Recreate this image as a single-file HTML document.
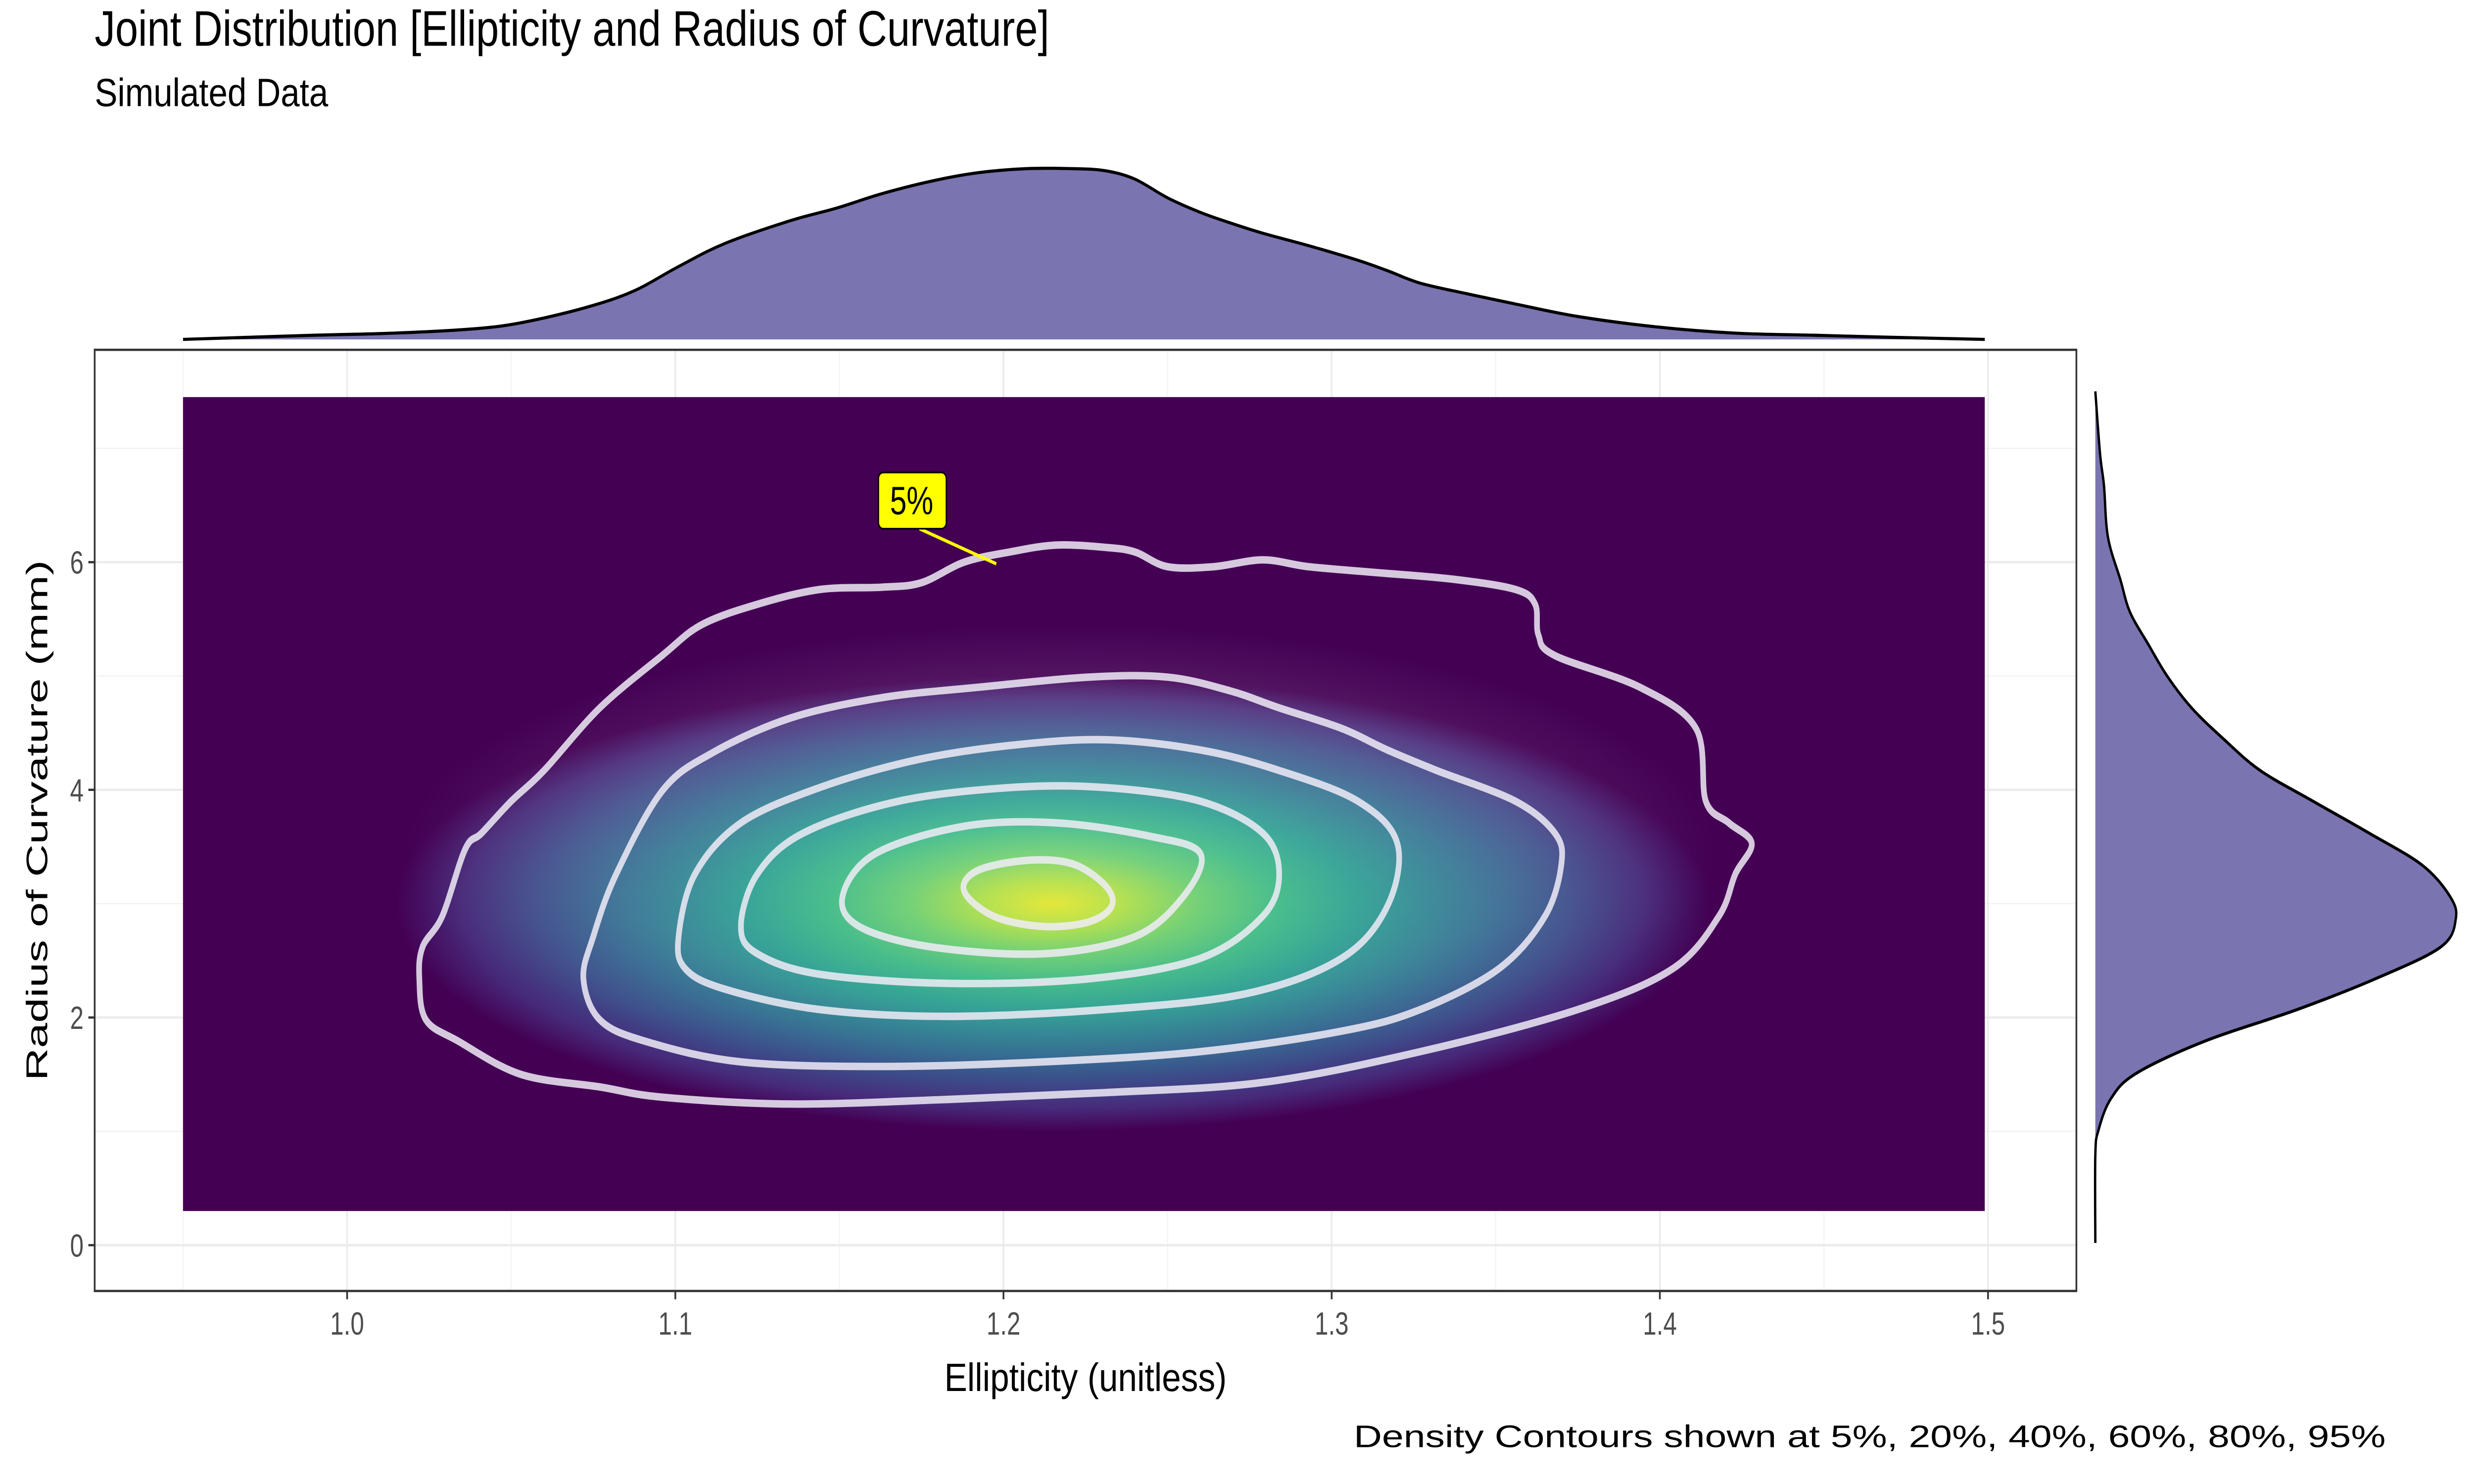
<!DOCTYPE html>
<html><head><meta charset="utf-8"><title>Joint Distribution</title>
<style>html,body{margin:0;padding:0;background:#fff;overflow:hidden;}svg{display:block;font-family:"Liberation Sans",Arial,sans-serif;}</style>
</head><body>
<svg id="chart" xmlns="http://www.w3.org/2000/svg" width="6600" height="3000">
<defs>
<radialGradient id="dens" cx="0.5" cy="0.5" r="0.5">
<stop offset="0" stop-color="#dfe318"/>
<stop offset="0.1" stop-color="#aadc32"/>
<stop offset="0.22" stop-color="#5ec962"/>
<stop offset="0.34" stop-color="#2fb47c"/>
<stop offset="0.46" stop-color="#1f9a8a"/>
<stop offset="0.57" stop-color="#277f8e"/>
<stop offset="0.68" stop-color="#31658e"/>
<stop offset="0.79" stop-color="#3d4a89"/>
<stop offset="0.9" stop-color="#472a7a"/>
<stop offset="1" stop-color="#440154"/>
</radialGradient>
<radialGradient id="haze" cx="0.5" cy="0.5" r="0.5">
<stop offset="0" stop-color="#ffffff" stop-opacity="0.18"/>
<stop offset="0.7" stop-color="#ffffff" stop-opacity="0.1"/>
<stop offset="1" stop-color="#ffffff" stop-opacity="0"/>
</radialGradient>
<clipPath id="rasterClip"><rect id="rasterClipRect" x="0" y="0" width="0" height="0"/></clipPath>
</defs>
<g id="root" transform="scale(4.20918)">
<text x="60" y="22" font-size="24" textLength="605" lengthAdjust="spacingAndGlyphs" fill="#000">Joint Distribution [Ellipticity and Radius of Curvature]</text>
<text x="60" y="51" font-size="19" textLength="148" lengthAdjust="spacingAndGlyphs" fill="#000">Simulated Data</text>
<g id="top-marginal"></g>
<g id="right-marginal"></g>
<g id="panel"></g>
<text x="688" y="668" font-size="19" text-anchor="middle" textLength="179" lengthAdjust="spacingAndGlyphs" fill="#000">Ellipticity (unitless)</text>
<text transform="translate(30,394) rotate(-90)" font-size="19" text-anchor="middle" textLength="250" lengthAdjust="spacingAndGlyphs" fill="#000">Radius of Curvature (mm)</text>
<text x="1512" y="695" font-size="15" text-anchor="end" textLength="654" lengthAdjust="spacingAndGlyphs" fill="#000">Density Contours shown at 5%, 20%, 40%, 60%, 80%, 95%</text>
</g>
</svg>
<script>
// ---- data ----
var xTicks = [1.0, 1.1, 1.2, 1.3, 1.4, 1.5];
var xTickLabels = ["1.0", "1.1", "1.2", "1.3", "1.4", "1.5"];
var xMinor = [0.95, 1.05, 1.15, 1.25, 1.35, 1.45];
var yTicks = [0, 2, 4, 6];
var yTickLabels = ["0", "2", "4", "6"];
var yMinor = [1, 3, 5, 7];
var rasterX = [0.95, 1.499];
var rasterY = [0.3, 7.45];
var densCenter = [1.215, 3.0];
var densSpread = [0.2, 4.0];

var topX = [0.950,0.990,1.014,1.038,1.053,1.072,1.087,1.101,1.115,1.135,1.149,1.163,1.178,1.192,1.207,1.221,1.231,1.240,1.250,1.260,1.269,1.279,1.293,1.308,1.317,1.327,1.341,1.356,1.375,1.399,1.423,1.447,1.471,1.499];
var topDensity = [0,0.1,0.15,0.25,0.4,0.75,1.15,1.75,2.3,2.85,3.15,3.5,3.8,4.0,4.1,4.1,4.05,3.85,3.4,3.05,2.8,2.55,2.25,1.9,1.65,1.35,1.1,0.85,0.55,0.3,0.15,0.1,0.05,0];

var rightY = [7.50,6.95,6.67,6.22,5.84,5.56,5.28,5.00,4.72,4.45,4.17,3.90,3.62,3.34,3.07,2.87,2.62,2.34,2.07,1.79,1.51,1.29,1.01,0.79,0.02];
var rightDensity = [0,0.06,0.11,0.16,0.32,0.44,0.67,0.91,1.22,1.62,2.09,2.76,3.47,4.14,4.49,4.57,4.38,3.55,2.56,1.38,0.52,0.2,0.04,0,0];

var contour05x = [1.022,1.023,1.029,1.036,1.041,1.050,1.060,1.077,1.096,1.108,1.125,1.144,1.163,1.175,1.188,1.202,1.216,1.231,1.240,1.250,1.264,1.279,1.293,1.313,1.337,1.356,1.362,1.363,1.368,1.394,1.411,1.414,1.421,1.428,1.423,1.418,1.404,1.375,1.327,1.279,1.231,1.183,1.135,1.096,1.077,1.053,1.034,1.024];
var contour05y = [2.34,2.62,2.89,3.48,3.62,3.90,4.17,4.72,5.18,5.45,5.63,5.76,5.78,5.82,6.00,6.09,6.15,6.13,6.09,5.96,5.96,6.02,5.96,5.91,5.85,5.76,5.63,5.36,5.18,4.90,4.54,3.90,3.71,3.53,3.26,2.89,2.43,2.07,1.70,1.43,1.34,1.28,1.24,1.30,1.39,1.50,1.79,1.98];
var contour20x = [1.072,1.075,1.082,1.096,1.111,1.135,1.163,1.192,1.226,1.250,1.269,1.284,1.303,1.317,1.332,1.356,1.368,1.370,1.365,1.351,1.327,1.303,1.260,1.212,1.163,1.120,1.091,1.077];
var contour20y = [2.34,2.71,3.26,3.99,4.32,4.63,4.81,4.90,4.99,4.99,4.87,4.72,4.54,4.35,4.17,3.90,3.62,3.35,2.89,2.43,2.07,1.88,1.70,1.61,1.57,1.61,1.79,1.98];
var contour40x = [1.101,1.106,1.120,1.144,1.173,1.202,1.231,1.260,1.284,1.308,1.320,1.317,1.303,1.274,1.231,1.183,1.144,1.115,1.103];
var contour40y = [2.71,3.26,3.71,4.02,4.26,4.39,4.44,4.35,4.17,3.90,3.53,2.98,2.52,2.21,2.07,2.01,2.07,2.25,2.43];
var contour60x = [1.120,1.125,1.139,1.168,1.202,1.231,1.260,1.279,1.284,1.279,1.260,1.226,1.183,1.144,1.125];
var contour60y = [2.80,3.26,3.62,3.90,4.02,4.02,3.90,3.62,3.26,2.89,2.52,2.34,2.30,2.38,2.56];
var contour80x = [1.151,1.161,1.188,1.216,1.245,1.260,1.255,1.240,1.212,1.178,1.156];
var contour80y = [3.07,3.44,3.68,3.71,3.59,3.44,3.07,2.71,2.56,2.62,2.80];
var contour95x = [1.188,1.192,1.207,1.221,1.231,1.233,1.226,1.212,1.197];
var contour95y = [3.11,3.29,3.38,3.35,3.16,2.98,2.84,2.80,2.89];
var contourLevels = ["5%","20%","40%","60%","80%","95%"];
var labelAnchor = [1.193, 6.04];
var labelPos = [1.172, 6.55];

// ---- fit to viewport (fill both axes) ----
(function(){
  var W = window.innerWidth || document.documentElement.clientWidth || 6600;
  var H = window.innerHeight || document.documentElement.clientHeight || 3000;
  var svg = document.getElementById("chart");
  svg.setAttribute("width", W);
  svg.setAttribute("height", H);
  document.getElementById("root").setAttribute("transform", "scale(" + (W / 1568) + "," + (H / 712.7) + ")");
})();

// ---- scales ----
var PX0 = 220, PXW = 2080;
var PY0 = 598, PYH = 54.67;
function sx(v){ return PX0 + (v - 1.0) * PXW; }
function sy(v){ return PY0 - v * PYH; }
var TOP_BASE = 163, TOP_K = 20;
function sTop(d){ return TOP_BASE - d * TOP_K; }
var RIGHT_BASE = 1328, RIGHT_K = 50;
function sRight(d){ return RIGHT_BASE + d * RIGHT_K; }

var NS = "http://www.w3.org/2000/svg";
function mk(tag, attrs, parent){
  var el = document.createElementNS(NS, tag);
  for (var k in attrs) el.setAttribute(k, attrs[k]);
  if (parent) parent.appendChild(el);
  return el;
}
function smoothClosed(pts){
  var n = pts.length, d = "M" + pts[0][0].toFixed(2) + "," + pts[0][1].toFixed(2);
  for (var i = 0; i < n; i++){
    var p0 = pts[(i-1+n)%n], p1 = pts[i], p2 = pts[(i+1)%n], p3 = pts[(i+2)%n];
    var c1x = p1[0] + (p2[0]-p0[0])/6, c1y = p1[1] + (p2[1]-p0[1])/6;
    var c2x = p2[0] - (p3[0]-p1[0])/6, c2y = p2[1] - (p3[1]-p1[1])/6;
    d += " C" + c1x.toFixed(2)+","+c1y.toFixed(2)+" "+c2x.toFixed(2)+","+c2y.toFixed(2)+" "+p2[0].toFixed(2)+","+p2[1].toFixed(2);
  }
  return d + "Z";
}
function smoothOpen(pts){
  var n = pts.length, d = "M" + pts[0][0].toFixed(2) + "," + pts[0][1].toFixed(2);
  for (var i = 0; i < n - 1; i++){
    var p0 = pts[Math.max(i-1,0)], p1 = pts[i], p2 = pts[i+1], p3 = pts[Math.min(i+2,n-1)];
    var c1x = p1[0] + (p2[0]-p0[0])/6, c1y = p1[1] + (p2[1]-p0[1])/6;
    var c2x = p2[0] - (p3[0]-p1[0])/6, c2y = p2[1] - (p3[1]-p1[1])/6;
    d += " C" + c1x.toFixed(2)+","+c1y.toFixed(2)+" "+c2x.toFixed(2)+","+c2y.toFixed(2)+" "+p2[0].toFixed(2)+","+p2[1].toFixed(2);
  }
  return d;
}

var panel = document.getElementById("panel");
var pLeft = 60, pRight = 1316, pTop = 168, pBottom = 620;

xMinor.forEach(function(v){
  var l = mk("line", {x1:sx(v), x2:sx(v), y1:pTop, y2:pBottom, stroke:"#f2f2f2", "stroke-width":0.6}, panel);
  
  
});
yMinor.forEach(function(v){
  var l = mk("line", {x1:pLeft, x2:pRight, y1:sy(v), y2:sy(v), stroke:"#f2f2f2", "stroke-width":0.6}, panel);
  
  
});
xTicks.forEach(function(v){
  var l = mk("line", {x1:sx(v), x2:sx(v), y1:pTop, y2:pBottom, stroke:"#ebebeb", "stroke-width":1.1}, panel);
  
  
});
yTicks.forEach(function(v){
  var l = mk("line", {x1:pLeft, x2:pRight, y1:sy(v), y2:sy(v), stroke:"#ebebeb", "stroke-width":1.1}, panel);
  
  
});

var rx0 = sx(rasterX[0]), rx1 = sx(rasterX[1]), ry0 = sy(rasterY[1]), ry1 = sy(rasterY[0]);
var cr = document.getElementById("rasterClipRect");
cr.setAttribute("x", rx0); cr.setAttribute("y", ry0); cr.setAttribute("width", rx1-rx0); cr.setAttribute("height", ry1-ry0);
var rb = mk("rect", {x:rx0, y:ry0, width:rx1-rx0, height:ry1-ry0, fill:"#440154"}, panel);


var g = mk("g", {"clip-path":"url(#rasterClip)"}, panel);
var ce = mk("ellipse", {cx:sx(densCenter[0]), cy:sy(densCenter[1]), rx:densSpread[0]*PXW, ry:densSpread[1]*PYH/2, fill:"url(#dens)"}, g);


var hz = mk("ellipse", {cx:sx(densCenter[0])+5, cy:sy(densCenter[1])-25, rx:densSpread[0]*PXW*1.0, ry:densSpread[1]*PYH*0.5, fill:"url(#haze)"}, g);



var cxs = [contour05x, contour20x, contour40x, contour60x, contour80x, contour95x];
var cys = [contour05y, contour20y, contour40y, contour60y, contour80y, contour95y];
for (var c = 0; c < cxs.length; c++){
  var pts = cxs[c].map(function(v, i){ return [sx(v), sy(cys[c][i])]; });
  var p = mk("path", {d:smoothClosed(pts), fill:"none", stroke:"#f0ecf7", "stroke-opacity":0.85, "stroke-width":3.6, "stroke-linejoin":"round"}, panel);
  
  
}

var ll = mk("line", {x1:sx(labelPos[0])+5, y1:sy(labelPos[1])+14, x2:sx(labelAnchor[0])+10, y2:sy(labelAnchor[1])+3, stroke:"#ffff00", "stroke-width":1.6}, panel);


var lb = mk("rect", {x:sx(labelPos[0])-21, y:sy(labelPos[1])-13, width:43, height:27, rx:3, fill:"#ffff00", stroke:"#000", "stroke-width":0.8}, panel);


var lt = mk("text", {x:sx(labelPos[0]), y:sy(labelPos[1])+7, "font-size":19, "text-anchor":"middle", fill:"#000"}, panel);
lt.textContent = contourLevels[0];



var bd = mk("rect", {x:pLeft, y:pTop, width:pRight-pLeft, height:pBottom-pTop, fill:"none", stroke:"#333", "stroke-width":1.1}, panel);



xTicks.forEach(function(v, i){
  var t = mk("line", {x1:sx(v), x2:sx(v), y1:pBottom, y2:pBottom+4, stroke:"#333", "stroke-width":1.1}, panel);
  
  
  var tx = mk("text", {x:sx(v), y:pBottom+21, "font-size":15.5, "text-anchor":"middle", fill:"#4d4d4d"}, panel);
  tx.textContent = xTickLabels[i];
  
  
});
yTicks.forEach(function(v, i){
  var t = mk("line", {x1:pLeft-4, x2:pLeft, y1:sy(v), y2:sy(v), stroke:"#333", "stroke-width":1.1}, panel);
  
  
  var tx = mk("text", {x:pLeft-7, y:sy(v)+5.5, "font-size":15.5, "text-anchor":"end", fill:"#4d4d4d"}, panel);
  tx.textContent = yTickLabels[i];
  
  
});

var tg = document.getElementById("top-marginal");
var tpts = topX.map(function(v, i){ return [sx(v), sTop(topDensity[i])]; });
var tcurve = smoothOpen(tpts);
var tfill = mk("path", {d:tcurve + " L" + sx(topX[topX.length-1]) + "," + TOP_BASE + " L" + sx(topX[0]) + "," + TOP_BASE + "Z", fill:"#7a74b1", stroke:"none"}, tg);


var tline = mk("path", {d:tcurve, fill:"none", stroke:"#000", "stroke-width":1.5, "stroke-linejoin":"round"}, tg);



var rg = document.getElementById("right-marginal");
var rpts = rightY.map(function(v, i){ return [sRight(rightDensity[i]), sy(v)]; });
var rcurve = smoothOpen(rpts);
var rfill = mk("path", {d:rcurve + " L" + RIGHT_BASE + "," + sy(rightY[rightY.length-1]) + " L" + RIGHT_BASE + "," + sy(rightY[0]) + "Z", fill:"#7a74b1", stroke:"none"}, rg);


var rline = mk("path", {d:rcurve, fill:"none", stroke:"#000", "stroke-width":1.5, "stroke-linejoin":"round"}, rg);


</script>
</body></html>
